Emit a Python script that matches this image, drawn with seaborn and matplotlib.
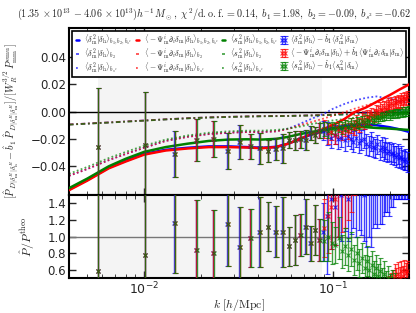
import numpy as np
import pandas as pd
import matplotlib
matplotlib.use("Agg")
import matplotlib.pyplot as plt
import seaborn as sns

# ---------------- data ----------------
k_bins = [0.0057, 0.0101, 0.0145, 0.0189, 0.0233, 0.0277, 0.0321, 0.0365, 0.0409, 0.0453,
          0.0497, 0.0541, 0.0585, 0.0629, 0.0673, 0.0717, 0.0761, 0.0805, 0.0849, 0.0893,
          0.0937, 0.0981, 0.1025, 0.1069, 0.1113, 0.1157, 0.1201, 0.1245, 0.1289, 0.1333,
          0.1377, 0.1421, 0.1465, 0.1509, 0.1553, 0.1597, 0.1641, 0.1685, 0.1729, 0.1773,
          0.1817, 0.1861, 0.1905, 0.1949, 0.1993, 0.2037, 0.2081, 0.2125, 0.2169, 0.2213,
          0.2257, 0.2301, 0.2345, 0.2389, 0.2433, 0.2477]

# top panel, low-k bins (1-19) shared by the three estimators
top_low = [-0.026, -0.0245, -0.031, -0.021, -0.020, -0.029, -0.022, -0.0255, -0.027, -0.029,
           -0.0275, -0.027, -0.0207, -0.021, -0.0204, -0.0207, -0.0156, -0.017, -0.0142]
top_low_err = [0.043, 0.039, 0.017, 0.0155, 0.013, 0.013, 0.0125, 0.009, 0.011, 0.008,
               0.008, 0.0105, 0.006, 0.007, 0.006, 0.0075, 0.005, 0.006, 0.0055]

# top panel, high-k bins (20-56)
blue_top_hi = [-0.014, -0.016, -0.019, -0.017, -0.020, -0.019, -0.021, -0.018, -0.020, -0.022,
               -0.019, -0.023, -0.021, -0.020, -0.024, -0.025, -0.022, -0.026, -0.027, -0.024,
               -0.028, -0.026, -0.029, -0.027, -0.030, -0.029, -0.031, -0.030, -0.032, -0.033,
               -0.031, -0.034, -0.033, -0.035, -0.036, -0.035, -0.037]
blue_top_hi_err = [0.007, 0.0085, 0.0075, 0.007, 0.0075, 0.007, 0.0075, 0.007, 0.0072, 0.0075,
                   0.007, 0.0075, 0.0072, 0.007, 0.0075, 0.0072, 0.007, 0.0075, 0.0072, 0.007,
                   0.0075, 0.0072, 0.007, 0.0075, 0.0072, 0.007, 0.0075, 0.0072, 0.007, 0.0075,
                   0.0072, 0.007, 0.0075, 0.0072, 0.007, 0.0075, 0.0072]
red_top_hi = [-0.013, -0.016, -0.015, -0.017, -0.013, -0.015, -0.012, -0.014, -0.010, -0.012,
              -0.008, -0.010, -0.006, -0.008, -0.004, -0.005, -0.002, -0.003, 0.000, -0.001,
              0.002, 0.001, 0.003, 0.002, 0.005, 0.004, 0.006, 0.005, 0.007, 0.006,
              0.008, 0.007, 0.009, 0.008, 0.010, 0.009, 0.011]
red_top_hi_err = [0.0065, 0.0075, 0.006, 0.0065, 0.006, 0.0058, 0.0056, 0.0058, 0.0055, 0.0054,
                  0.0053, 0.0052, 0.0052, 0.0051, 0.005, 0.005, 0.0049, 0.0049, 0.0048, 0.0048,
                  0.0047, 0.0047, 0.0047, 0.0046, 0.0046, 0.0046, 0.0045, 0.0045, 0.0045, 0.0045,
                  0.0044, 0.0044, 0.0044, 0.0044, 0.0044, 0.0043, 0.0043]
green_top_hi = [-0.013, -0.014, -0.012, -0.013, -0.011, -0.012, -0.010, -0.011, -0.009, -0.010,
                -0.008, -0.009, -0.007, -0.008, -0.006, -0.007, -0.005, -0.006, -0.004, -0.005,
                -0.004, -0.004, -0.003, -0.003, -0.002, -0.003, -0.002, -0.002, -0.001, -0.002,
                -0.001, -0.001, 0.000, -0.001, 0.000, 0.000, 0.001]
green_top_hi_err = [0.005, 0.0055, 0.0045, 0.0045, 0.0043, 0.0042, 0.0041, 0.004, 0.0039, 0.0038,
                    0.0037, 0.0037, 0.0036, 0.0036, 0.0035, 0.0035, 0.0034, 0.0034, 0.0033, 0.0033,
                    0.0033, 0.0032, 0.0032, 0.0032, 0.0031, 0.0031, 0.0031, 0.003, 0.003, 0.003,
                    0.003, 0.003, 0.003, 0.003, 0.003, 0.003, 0.003]

# bottom panel ratio, low-k bins shared
rat_low = [0.59, 0.78, 1.16, 0.84, 0.80, 1.15, 0.87, 0.98, 1.05, 1.12,
           1.06, 1.05, 0.88, 0.96, 1.02, 1.12, 0.92, 1.08, 0.96]
rat_low_err = [1.00, 1.25, 0.60, 0.60, 0.52, 0.50, 0.48, 0.35, 0.42, 0.30,
               0.31, 0.42, 0.23, 0.30, 0.25, 0.33, 0.21, 0.30, 0.25]
blue_rat_hi = [1.05, 1.25, 1.45, 1.35, 1.55, 1.50, 1.62, 1.45, 1.58, 1.70,
               1.55, 1.78, 1.62, 1.50, 1.72, 1.85, 1.62, 1.80, 1.95, 1.70,
               2.05, 1.85, 2.10, 1.95, 2.20, 2.05, 2.30, 2.15, 2.40, 2.45,
               2.30, 2.60, 2.45, 2.70, 2.80, 2.75, 2.90]
blue_rat_hi_err = [0.35, 0.70, 0.60, 0.45, 0.55, 0.55, 0.55, 0.50, 0.55, 0.60,
                   0.55, 0.70, 0.60, 0.55, 0.85, 0.85, 0.75, 0.70, 0.80, 0.60,
                   0.90, 0.70, 0.85, 0.65, 0.90, 0.80, 0.95, 0.80, 0.95, 1.00,
                   0.85, 1.15, 1.00, 1.25, 1.35, 1.30, 1.45]
red_rat_hi = [1.10, 1.25, 1.35, 1.45, 1.60, 1.80, 2.00, 2.30, 2.60, 3.20,
              np.nan, np.nan, np.nan, np.nan, np.nan, np.nan, np.nan, np.nan, np.nan, np.nan,
              0.20, 0.25, 0.28, 0.30, 0.33, 0.35, 0.40, 0.45, 0.52, 0.48,
              0.55, 0.50, 0.58, 0.52, 0.60, 0.56, 0.58]
red_rat_hi_err = [0.35, 0.45, 0.50, 0.55, 0.60, 0.75, 0.90, 1.10, 1.30, 1.70,
                  0.3, 0.3, 0.3, 0.3, 0.3, 0.3, 0.3, 0.3, 0.3, 0.3,
                  0.22, 0.20, 0.20, 0.18, 0.18, 0.17, 0.16, 0.15, 0.15, 0.14,
                  0.14, 0.13, 0.13, 0.12, 0.12, 0.12, 0.12]
green_rat_hi = [0.95, 1.00, 0.92, 0.90, 0.98, 0.82, 0.88, 0.78, 0.85, 0.72,
                0.80, 0.68, 0.74, 0.62, 0.70, 0.60, 0.66, 0.55, 0.62, 0.52,
                0.58, 0.48, 0.55, 0.45, 0.50, 0.42, 0.46, 0.38, 0.42, 0.32,
                0.36, 0.28, 0.30, 0.22, 0.25, 0.18, 0.20]
green_rat_hi_err = [0.25, 0.30, 0.25, 0.22, 0.25, 0.20, 0.22, 0.20, 0.20, 0.18,
                    0.20, 0.17, 0.18, 0.16, 0.18, 0.16, 0.17, 0.15, 0.16, 0.15,
                    0.16, 0.14, 0.15, 0.14, 0.14, 0.13, 0.14, 0.13, 0.14, 0.13,
                    0.13, 0.13, 0.13, 0.13, 0.13, 0.13, 0.13]

# theory curves
k_line = [0.004, 0.005, 0.0065, 0.008, 0.01, 0.013, 0.017, 0.022, 0.028, 0.035, 0.042, 0.05,
          0.058, 0.067, 0.078, 0.09, 0.1, 0.115, 0.13, 0.15, 0.17, 0.2, 0.225, 0.255]
blue_full = [-0.057, -0.050, -0.041, -0.036, -0.031, -0.028, -0.0265, -0.0255, -0.0255, -0.026, -0.0265, -0.0258,
             -0.0235, -0.020, -0.0165, -0.014, -0.012, -0.0105, -0.0098, -0.0095, -0.010, -0.0115, -0.013, -0.015]
red_full = [-0.0575, -0.0505, -0.0415, -0.0365, -0.0315, -0.0285, -0.027, -0.026, -0.026, -0.0263, -0.0268, -0.026,
            -0.0235, -0.020, -0.016, -0.0125, -0.010, -0.0055, -0.0005, 0.003, 0.007, 0.012, 0.016, 0.020]
green_full = [-0.056, -0.049, -0.040, -0.0345, -0.0295, -0.026, -0.0235, -0.0215, -0.0205, -0.0203, -0.0205, -0.020,
              -0.0185, -0.0165, -0.0148, -0.0135, -0.0125, -0.0118, -0.0115, -0.0115, -0.012, -0.0125, -0.013, -0.0135]
blue_b2 = [-0.0095, -0.0088, -0.0080, -0.0073, -0.0066, -0.0057, -0.0049, -0.0043, -0.0039, -0.0036, -0.0034, -0.0033,
           -0.0032, -0.0030, -0.0028, -0.0026, -0.0024, -0.0020, -0.0015, -0.0010, -0.0005, 0.0000, 0.0005, 0.0010]
red_b2 = [-0.0095, -0.0088, -0.0080, -0.0073, -0.0066, -0.0057, -0.0049, -0.0043, -0.0039, -0.0036, -0.0034, -0.0033,
          -0.0032, -0.0030, -0.0028, -0.0025, -0.0022, -0.0015, -0.0008, 0.0000, 0.0008, 0.0018, 0.0025, 0.0032]
green_b2 = [-0.0096, -0.0089, -0.0081, -0.0074, -0.0067, -0.0058, -0.0050, -0.0044, -0.0040, -0.0037, -0.0035, -0.0034,
            -0.0033, -0.0031, -0.0029, -0.0027, -0.0025, -0.0023, -0.0021, -0.0019, -0.0017, -0.0015, -0.0014, -0.0013]
blue_bs2 = [-0.047, -0.042, -0.0355, -0.031, -0.0265, -0.0215, -0.0185, -0.0165, -0.0155, -0.015, -0.015, -0.0145,
            -0.0125, -0.009, -0.005, -0.0015, 0.002, 0.0055, 0.008, 0.010, 0.011, 0.0095, 0.0075, 0.006]
red_bs2 = [-0.047, -0.042, -0.0355, -0.031, -0.0265, -0.0215, -0.0185, -0.0165, -0.0155, -0.015, -0.015, -0.0145,
           -0.0128, -0.010, -0.0075, -0.005, -0.003, -0.0005, 0.002, 0.0045, 0.0065, 0.0085, 0.0095, 0.0105]
green_bs2 = [-0.0455, -0.0405, -0.034, -0.0295, -0.025, -0.0205, -0.0175, -0.0155, -0.0145, -0.014, -0.014, -0.0135,
             -0.0125, -0.011, -0.009, -0.0075, -0.0065, -0.0055, -0.0045, -0.0035, -0.003, -0.0025, -0.002, -0.002]

fit_range = [0.0057, 0.088]

# ---------------- style ----------------
sns.set_style("ticks")
plt.rcParams.update({
    "font.family": ["DejaVu Sans"],
    "mathtext.fontset": "cm",
    "xtick.direction": "in", "ytick.direction": "in",
    "xtick.top": True, "ytick.right": True,
    "xtick.major.size": 5, "xtick.minor.size": 3,
    "ytick.major.size": 5, "ytick.minor.size": 3,
    "xtick.major.width": 1.0, "ytick.major.width": 1.0,
    "axes.linewidth": 1.5,
    "axes.edgecolor": "black",
    "font.size": 8,
})

BLUE, RED, GREEN = (0, 0, 1), (1, 0, 0), (0, 0.5, 0)

fig = plt.figure(figsize=(4.16, 3.13), dpi=100)
ax1 = fig.add_axes([0.1659, 0.377, 0.8173, 0.5335])
ax2 = fig.add_axes([0.1659, 0.1118, 0.8173, 0.2652], sharex=ax1)

k = np.array(k_bins)
def join(a, b):
    return np.array(list(a) + list(b), dtype=float)

colors = [BLUE, RED, GREEN]
offs = [0.996, 1.0, 1.004]
tops = [join(top_low, blue_top_hi), join(top_low, red_top_hi), join(top_low, green_top_hi)]
tops_err = [join(top_low_err, blue_top_hi_err), join(top_low_err, red_top_hi_err), join(top_low_err, green_top_hi_err)]
rats = [join(rat_low, blue_rat_hi), join(rat_low, red_rat_hi), join(rat_low, green_rat_hi)]
rats_err = [join(rat_low_err, blue_rat_hi_err), join(rat_low_err, red_rat_hi_err), join(rat_low_err, green_rat_hi_err)]

for ax in (ax1, ax2):
    ax.axvspan(fit_range[0], fit_range[1], color="#f4f4f4", zorder=0, lw=0)
ax1.axhline(0, color="black", lw=1.0, zorder=1)
ax2.axhline(1, color="#777777", lw=1.0, zorder=1)

dd = (0, (2.5, 1.5, 1, 1.5))
dot = (0, (1, 1.3))
line_sets = [
    (blue_full, blue_b2, blue_bs2, BLUE),
    (red_full, red_b2, red_bs2, RED),
    (green_full, green_b2, green_bs2, GREEN),
]
line_handles = []
for full, b2, bs2, c in line_sets:
    df = pd.DataFrame({"k": k_line, "full": full, "b2": b2, "bs2": bs2})
    sns.lineplot(data=df, x="k", y="full", ax=ax1, color=c, lw=1.8, sort=False, estimator=None, zorder=3)
    h1 = ax1.lines[-1]
    sns.lineplot(data=df, x="k", y="b2", ax=ax1, color=c, lw=1.3, sort=False, estimator=None, zorder=2,
                 linestyle=dd, alpha=0.7)
    h2 = ax1.lines[-1]
    sns.lineplot(data=df, x="k", y="bs2", ax=ax1, color=c, lw=1.3, sort=False, estimator=None, zorder=2,
                 linestyle=dot, alpha=0.7)
    h3 = ax1.lines[-1]
    line_handles.append((h1, h2, h3))

eb_handles = []
for c, o, t, te, r, re in zip(colors, offs, tops, tops_err, rats, rats_err):
    h = ax1.errorbar(k * o, t, yerr=te, fmt="x", color=c, ms=2.5, mew=0.8, capsize=1.8,
                     elinewidth=1.0, capthick=0.8, alpha=0.75, zorder=4)
    eb_handles.append(h)
    ax2.errorbar(k * o, r, yerr=re, fmt="x", color=c, ms=2.5, mew=0.8, capsize=1.8,
                 elinewidth=1.0, capthick=0.8, alpha=0.75, zorder=4)

ax1.set_xscale("log")
ax1.set_xlim(0.004, 0.253)
ax1.set_ylim(-0.061, 0.061)
ax1.set_yticks([-0.04, -0.02, 0.0, 0.02, 0.04])
ax1.set_yticklabels(["\u22120.04", "\u22120.02", "0.00", "0.02", "0.04"])
ax2.set_ylim(0.5, 1.5)
ax2.set_yticks([0.6, 0.8, 1.0, 1.2, 1.4])
plt.setp(ax1.get_xticklabels(), visible=False)
for ax in (ax1, ax2):
    ax.tick_params(which="both", direction="in", top=True, right=True, labelsize=8.5, pad=2)
    ax.xaxis.set_minor_locator(matplotlib.ticker.LogLocator(base=10, subs=np.arange(2, 10)))
ax2.tick_params(axis="x", labelsize=9, pad=2)

ax1.set_ylabel(r"$[\hat P_{D|\delta^R_{\rm m}|\delta^R_{\rm h}}-\hat b_1\,\hat P_{D|\delta^R_{\rm m}|\delta^R_{\rm m}}]/[W_R^{3/2}\,P^{\rm emu}_{\rm mm}]$",
               fontsize=7.4)
ax1.yaxis.set_label_coords(-0.14, 0.44)
ax2.set_ylabel(r"$\hat P/P^{\rm theo}$", fontsize=8.5)
ax2.yaxis.set_label_coords(-0.095, 0.5)
ax2.set_xlabel(r"$k\ [h/{\rm Mpc}]$", fontsize=8.5, labelpad=0)

fig.text(0.99, 0.955,
         r"$(1.35\,\times10^{13}\,-4.06\,\times10^{13})h^{-1}\,M_\odot,\ \chi^2/{\rm d.o.f.}=0.14,\ b_1=1.98,\ b_2=-0.09,\ b_{s^2}=-0.62$",
         fontsize=7.3, ha="right", va="center")

lab_d2 = r"\langle\delta^2_{\rm m}|\delta_{\rm h}\rangle"
lab_ps = r"\langle-\Psi^i_{\rm m}\partial_i\delta_{\rm m}|\delta_{\rm h}\rangle"
lab_s2 = r"\langle s^2_{\rm m}|\delta_{\rm h}\rangle"
subs = [r"_{b_1,b_2,b_{s^2}}", r"_{b_2}", r"_{b_{s^2}}"]
handles, labels = [], []
for base, hs in zip([lab_d2, lab_ps, lab_s2], line_handles):
    for s, h in zip(subs, hs):
        handles.append(h)
        labels.append("$" + base + s + "$")
handles += eb_handles
labels += [r"$\langle\delta^2_{\rm m}|\delta_{\rm h}\rangle-\hat b_1\langle\delta^2_{\rm m}|\delta_{\rm m}\rangle$",
           r"$\langle-\Psi^i_{\rm m}\partial_i\delta_{\rm m}|\delta_{\rm h}\rangle+\hat b_1\langle\Psi^i_{\rm m}\partial_i\delta_{\rm m}|\delta_{\rm m}\rangle$",
           r"$\langle s^2_{\rm m}|\delta_{\rm h}\rangle-\hat b_1\langle s^2_{\rm m}|\delta_{\rm m}\rangle$"]
leg = ax1.legend(handles, labels, ncol=4, loc="upper left", bbox_to_anchor=(0.009, 0.985, 0.982, 0.0),
                 mode="expand", fontsize=5.7, handlelength=1.0, handletextpad=0.3, columnspacing=0.3,
                 labelspacing=-0.15, borderpad=0.2, borderaxespad=0, frameon=True, fancybox=False,
                 framealpha=1, edgecolor="black", numpoints=2)
leg.get_frame().set_linewidth(1.2)
leg.set_zorder(10)

fig.savefig("out.png", dpi=100)
